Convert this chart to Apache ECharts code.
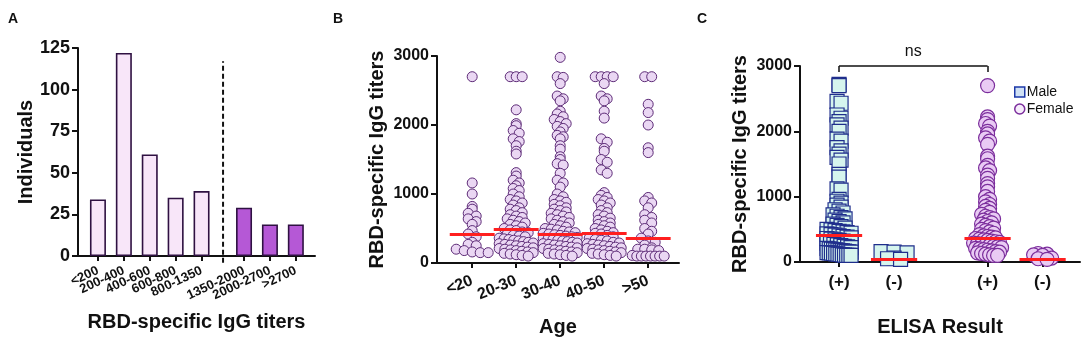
<!DOCTYPE html>
<html>
<head>
<meta charset="utf-8">
<script src="https://cdn.jsdelivr.net/npm/echarts@6/dist/echarts.min.js"></script>
<style>
  html, body { margin: 0; padding: 0; background: #fff; }
  #main { width: 1084px; height: 342px; }
</style>
</head>
<body>
<div id="main"></div>
<script>
// ---- data ----
// A: number of individuals per titer range
var titerRanges = ['<200', '200-400', '400-600', '600-800', '800-1350', '1350-2000', '2000-2700', '>2700'];
var individuals = [34, 122, 61, 35, 39, 29, 19, 19];

// B: titers per age group
var ageGroups = ['<20', '20-30', '30-40', '40-50', '>50'];
var titersLt20 = [2700, 1160, 1000, 820, 780, 720, 680, 640, 600, 560, 470, 420, 380, 300, 270, 250, 200, 180, 160, 150, 150];
var titers20to30 = [2700, 2700, 2700, 2220, 2020, 1990, 1920, 1880, 1800, 1760, 1700, 1620, 1580,
  1310, 1260, 1200, 1160, 1120, 1080, 1050, 1000, 960, 920, 900, 870, 840, 800, 780, 760, 730, 700,
  680, 660, 640, 620, 600, 580, 560, 540, 520, 500, 480, 470, 450, 440, 420, 400, 390, 380, 360, 350,
  340, 330, 320, 310, 300, 290, 280, 270, 260, 250, 240, 230, 220, 210, 200, 190, 180, 170, 160, 150,
  140, 130, 120, 110, 100];
var titers30to40 = [2980, 2700, 2690, 2600, 2420, 2380, 2350, 2200, 2160, 2120, 2080, 2050, 2020, 1980,
  1950, 1900, 1850, 1830, 1800, 1700, 1650, 1540, 1500, 1440, 1420, 1300, 1200, 1160, 1100, 1000, 960,
  920, 900, 880, 850, 830, 800, 780, 760, 740, 720, 700, 680, 660, 640, 620, 600, 580, 560, 540, 520,
  500, 490, 480, 460, 450, 440, 430, 420, 410, 400, 390, 380, 370, 360, 350, 340, 330, 320, 310, 300,
  290, 280, 270, 260, 250, 240, 230, 220, 210, 200, 190, 180, 170, 160, 150, 140, 130, 120, 110, 100];
var titers40to50 = [2700, 2700, 2700, 2700, 2600, 2420, 2380, 2350, 2200, 2100, 1800, 1750, 1660, 1620,
  1500, 1460, 1350, 1300, 1020, 980, 950, 920, 900, 870, 840, 800, 760, 730, 700, 680, 650, 620, 600,
  580, 560, 540, 520, 500, 480, 460, 440, 430, 420, 400, 380, 360, 340, 330, 320, 300, 290, 280, 270,
  260, 250, 240, 230, 220, 210, 200, 190, 180, 170, 160, 150, 140, 130, 120, 110, 100];
var titersGt50 = [2700, 2700, 2300, 2180, 2000, 1670, 1600, 950, 900, 870, 800, 700, 660, 620, 580, 500,
  460, 420, 360, 320, 300, 260, 220, 200, 200, 190, 180, 110, 100, 100, 100, 100, 100, 100, 100];
var ageMedians = [420, 490, 410, 430, 360];

// C: titers by ELISA result and sex
var elisaGroups = ['(+)', '(-)', '(+)', '(-)'];
var malePositive = [2720, 2700, 2460, 2430, 2250, 2200, 2150, 2100, 2050, 2000, 1880, 1850, 1750, 1700,
  1650, 1600, 1560, 1500, 1340, 1300, 1120, 1100, 960, 930, 900, 870, 840, 800, 780, 750, 720, 700, 680,
  660, 640, 620, 600, 580, 560, 540, 520, 500, 490, 480, 470, 460, 450, 440, 430, 420, 410, 400, 390,
  380, 370, 360, 350, 340, 330, 320, 310, 300, 290, 280, 270, 260, 250, 240, 230, 220, 210, 200, 195,
  190, 185, 180, 175, 170, 165, 160, 155, 150, 145, 140, 135, 130, 125, 120, 115, 110, 105, 100, 100, 100];
var maleNegative = [160, 150, 140, 60, 50, 40];
var femalePositive = [2700, 2220, 2180, 2120, 2080, 2000, 1960, 1900, 1850, 1800, 1620, 1580, 1480, 1440,
  1400, 1330, 1280, 1200, 1150, 1080, 1000, 960, 920, 880, 850, 820, 790, 760, 730, 700, 680, 660, 640,
  620, 600, 580, 560, 540, 520, 500, 480, 460, 440, 420, 400, 390, 380, 370, 360, 350, 340, 330, 320,
  310, 300, 290, 280, 270, 260, 250, 240, 230, 220, 210, 200, 190, 180, 170, 160, 150, 140, 130, 120,
  110, 100, 100];
var femaleNegative = [130, 120, 110, 100, 60, 50, 40];
var elisaMedians = [415, 44, 366, 49];

// ---- layout helpers ----
var FONT = 'Liberation Sans, Arial, sans-serif';
var gA = { left: 78, top: 48, width: 237, height: 208, min: -0.77, max: 8.38 };
var gB = { left: 437, top: 56, width: 242, height: 208, min: -0.8, max: 4.7 };
var gC = { left: 800, top: 66, width: 280, height: 205, min: -0.71, max: 4.38 };

// bar slots; second group is shifted right past the dashed separator
var rangePos = titerRanges.map(function (c, i) { return i < 5 ? i : i + 0.64; });
var cutPos = 4.83;
var agePos = [0, 1, 2, 3, 4];
var elisaPos = [0, 1, 2.7, 3.7];

// A's labels go on two stacked axes (even / odd slots) so the rotated texts are never dropped
function pick(arr, odd) { return arr.filter(function (v, i) { return i % 2 === (odd ? 1 : 0); }); }

// scatter dot plot: points falling in the same vertical bin sit side by side
function dotOffsets(values, pxPerValue, binPx, stepPx, maxHalf) {
  var bins = {};
  values.forEach(function (v, i) {
    var b = Math.floor(v * pxPerValue / binPx);
    (bins[b] = bins[b] || []).push(i);
  });
  var out = [];
  Object.keys(bins).forEach(function (b) {
    var idx = bins[b], n = idx.length;
    var step = n > 1 ? Math.min(stepPx, 2 * maxHalf / (n - 1)) : 0;
    idx.forEach(function (i, j) { out[i] = (j - (n - 1) / 2) * step; });
  });
  return out;
}

// spread = [binPx, stepPx, maxHalf] per group
function dotData(groups, positions, g, spread) {
  var pxX = g.width / (g.max - g.min), pxY = g.height / 3000;
  var data = [];
  groups.forEach(function (vals, k) {
    var s = spread[k];
    var off = dotOffsets(vals, pxY, s[0], s[1], s[2]);
    vals.forEach(function (v, i) { data.push([positions[k] + off[i] / pxX, v]); });
  });
  return data;
}

function medianLines(meds, positions, half) {
  return meds.map(function (m, k) {
    return [{ coord: [positions[k] - half, m] }, { coord: [positions[k] + half, m] }];
  });
}

function yAxisBase(grid, max, interval, fontSize, name, gap) {
  return {
    type: 'value', gridIndex: grid, min: 0, max: max, interval: interval,
    name: name, nameLocation: 'middle', nameGap: gap,
    nameTextStyle: { fontSize: 20, fontWeight: 'bold', color: '#111', fontFamily: FONT },
    axisLine: { show: true, onZero: false, lineStyle: { color: '#111', width: 2 } },
    axisTick: { show: true, length: 6, lineStyle: { color: '#111', width: 2 } },
    axisLabel: {
      fontSize: fontSize, fontWeight: 'bold', color: '#111', margin: 8, fontFamily: FONT,
      formatter: function (v) { return String(v); }
    },
    splitLine: { show: false }
  };
}

function xAxisBase(grid, g, positions, labels, label, name, gap) {
  return {
    type: 'value', gridIndex: grid, min: g.min, max: g.max, position: 'bottom',
    name: name, nameLocation: 'middle', nameGap: gap,
    nameTextStyle: { fontSize: 20, fontWeight: 'bold', color: '#111', fontFamily: FONT },
    axisLine: { show: true, onZero: false, lineStyle: { color: '#111', width: 2 } },
    axisTick: { show: true, length: 5, customValues: positions, lineStyle: { color: '#111', width: 2 } },
    axisLabel: Object.assign({
      customValues: positions, color: '#111', fontWeight: 'bold', fontFamily: FONT,
      showMinLabel: true, showMaxLabel: true, hideOverlap: false,
      formatter: function (v) {
        for (var i = 0; i < positions.length; i++) if (Math.abs(positions[i] - v) < 1e-6) return labels[i];
        return '';
      }
    }, label),
    splitLine: { show: false }
  };
}

var aLabel = { fontSize: 13, rotate: 25, margin: 14 };
var aOddAxis = xAxisBase(0, gA, pick(rangePos, true), pick(titerRanges, true), aLabel, '', 0);
aOddAxis.axisLine.show = false;

var chart = echarts.init(document.getElementById('main'));

var option = {
  animation: false,
  textStyle: { fontFamily: FONT },
  title: [
    { text: 'A', left: 8, top: 12, padding: 0, textStyle: { fontSize: 14, fontWeight: 'bold', color: '#111' } },
    { text: 'B', left: 333, top: 12, padding: 0, textStyle: { fontSize: 14, fontWeight: 'bold', color: '#111' } },
    { text: 'C', left: 697, top: 12, padding: 0, textStyle: { fontSize: 14, fontWeight: 'bold', color: '#111' } }
  ],
  legend: {
    orient: 'vertical', left: 1014, top: 85, padding: 0, itemGap: 3,
    itemWidth: 10, itemHeight: 10,
    textStyle: { fontSize: 14, color: '#111', fontFamily: FONT, padding: [0, 0, 0, -3] },
    data: [
      { name: 'Male', icon: 'rect', itemStyle: { color: '#cfe0f4', borderColor: '#1d38a8', borderWidth: 1.5 } },
      { name: 'Female', icon: 'circle', itemStyle: { color: '#f6ecfb', borderColor: '#7b2d9c', borderWidth: 1.5 } }
    ]
  },
  grid: [
    { left: gA.left, top: gA.top, width: gA.width, height: gA.height },
    { left: gB.left, top: gB.top, width: gB.width, height: gB.height },
    { left: gC.left, top: gC.top, width: gC.width, height: gC.height }
  ],
  xAxis: [
    xAxisBase(0, gA, pick(rangePos, false), pick(titerRanges, false), aLabel, 'RBD-specific IgG titers', 56),
    xAxisBase(1, gB, agePos, ageGroups, { fontSize: 16, rotate: 22, margin: 17 }, 'Age', 54),
    xAxisBase(2, gC, elisaPos, elisaGroups, { fontSize: 17, margin: 12 }, 'ELISA Result', 55),
    aOddAxis
  ],
  yAxis: [
    yAxisBase(0, 125, 25, 18, 'Individuals', 42),
    yAxisBase(1, 3000, 1000, 16, 'RBD-specific IgG titers', 50),
    yAxisBase(2, 3000, 1000, 16, 'RBD-specific IgG titers', 50)
  ],
  series: [
    {
      name: 'Individuals', type: 'bar', xAxisIndex: 0, yAxisIndex: 0, barWidth: 16,
      data: individuals.map(function (v, i) {
        return {
          value: [rangePos[i], v],
          itemStyle: { color: i < 5 ? '#f8e6f9' : '#b558d6', borderColor: '#2f1142', borderWidth: 1.6 }
        };
      })
    },
    {
      // dashed separator between the two titer groups
      name: 'cut', type: 'line', xAxisIndex: 0, yAxisIndex: 0, clip: false, silent: true,
      symbol: 'none', lineStyle: { color: '#111', width: 2, type: [5, 3] },
      data: [[cutPos, -4], [cutPos, 117]]
    },
    {
      name: 'Age', type: 'scatter', xAxisIndex: 1, yAxisIndex: 1, clip: false,
      symbolSize: 10,
      itemStyle: { color: '#ead7f3', borderColor: '#5c2a76', borderWidth: 1, opacity: 1 },
      data: dotData([titersLt20, titers20to30, titers30to40, titers40to50, titersGt50], agePos, gB,
        [[5, 8, 16], [5, 6, 17], [5, 6, 17], [5, 6, 17], [5, 7, 16]]),
      markLine: {
        silent: true, symbol: 'none', label: { show: false }, z: 10,
        lineStyle: { color: '#ff1f1f', width: 3, type: 'solid' },
        data: medianLines(ageMedians, agePos, 0.51)
      }
    },
    {
      name: 'Male', type: 'scatter', xAxisIndex: 2, yAxisIndex: 2, clip: false,
      symbol: 'rect', symbolSize: 14,
      itemStyle: { color: '#d6f5ee', borderColor: '#1f2e8c', borderWidth: 1.2, opacity: 1 },
      data: dotData([malePositive, maleNegative], [elisaPos[0], elisaPos[1]], gC, [[5, 4, 12], [4, 13, 16]]),
      markLine: {
        silent: true, symbol: 'none', z: 10,
        label: { show: false },
        lineStyle: { color: '#ff1f1f', width: 3, type: 'solid' },
        data: medianLines(elisaMedians.slice(0, 2), [elisaPos[0], elisaPos[1]], 0.42).concat([
          [{ coord: [elisaPos[0], 2910], lineStyle: { color: '#111', width: 1.5 } }, { coord: [elisaPos[0], 3000] }],
          [{ coord: [elisaPos[0], 3000], lineStyle: { color: '#111', width: 1.5 },
             label: { show: true, formatter: 'ns', position: 'insideMiddleTop', distance: 6, fontSize: 16, color: '#111', fontFamily: FONT } },
           { coord: [elisaPos[2], 3000] }],
          [{ coord: [elisaPos[2], 3000], lineStyle: { color: '#111', width: 1.5 } }, { coord: [elisaPos[2], 2910] }]
        ])
      }
    },
    {
      name: 'Female', type: 'scatter', xAxisIndex: 2, yAxisIndex: 2, clip: false,
      symbol: 'circle', symbolSize: 14,
      itemStyle: { color: '#e9cbf4', borderColor: '#7b2d9c', borderWidth: 1.2, opacity: 1 },
      data: dotData([femalePositive, femaleNegative], [elisaPos[2], elisaPos[3]], gC, [[5, 4, 14], [4, 9, 12]]),
      markLine: {
        silent: true, symbol: 'none', label: { show: false }, z: 10,
        lineStyle: { color: '#ff1f1f', width: 3, type: 'solid' },
        data: medianLines(elisaMedians.slice(2), [elisaPos[2], elisaPos[3]], 0.42)
      }
    }
  ]
};

chart.setOption(option);
</script>
</body>
</html>
